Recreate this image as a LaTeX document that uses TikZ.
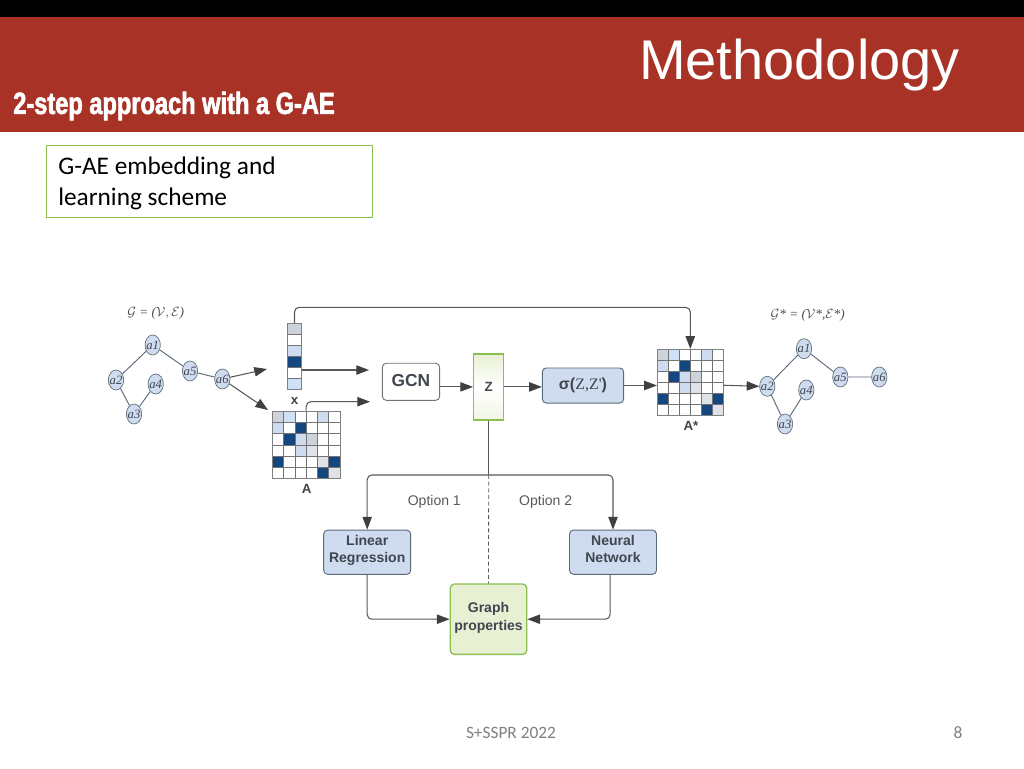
\documentclass[tikz,border=0pt]{standalone}
\usepackage{fontspec}
\usepackage{amsmath,amssymb}
\setmainfont{Liberation Sans}
\newfontfamily\calibrifont{Carlito}
\newfontfamily\serifnodefont{Liberation Serif}
\newfontfamily\subtitlefont[FakeStretch=0.77,FakeBold=2]{Liberation Sans Bold}
\usetikzlibrary{arrows.meta,shapes.geometric}
\definecolor{headred}{HTML}{A93226}
\definecolor{cellgrey}{HTML}{CDD3DA}
\definecolor{cellice}{HTML}{CFE0F7}
\definecolor{cellpale}{HTML}{CFDBEE}
\definecolor{celldark}{HTML}{14477F}
\definecolor{cellsoft}{HTML}{DFE3E8}
\definecolor{boxblue}{HTML}{CFDCEF}
\definecolor{boxedge}{HTML}{5C6B7A}
\definecolor{leafgreen}{HTML}{8CBF52}
\definecolor{palegreen}{HTML}{E8F0D4}
\definecolor{inkgrey}{HTML}{3F4650}
\tikzstyle{bluebox} = [draw=boxedge, fill=boxblue, rounded corners=3pt, line width=0.7pt,
    inner sep=0pt, minimum width=65.25pt, minimum height=33.2pt]
\tikzstyle{boxtext} = [align=center, text=inkgrey, inner sep=0pt,
    font=\fontsize{10.5pt}{13pt}\selectfont\bfseries]
\tikzstyle{graphnode} = [draw=boxedge, fill=boxblue, ellipse, line width=0.5pt, inner sep=-2.5pt,
    minimum width=11.5pt, minimum height=15pt, text=inkgrey, font=\serifnodefont\itshape\fontsize{9.5pt}{11pt}\selectfont]
\tikzstyle{graphedge} = [draw=boxedge, line width=0.7pt]
\tikzstyle{link} = [draw=black!65, line width=0.8pt, rounded corners=3.5pt,
    -{Triangle[length=9.5pt,width=7pt,color=black!75]}]
\tikzstyle{gridframe} = [draw=black!50, line width=0.6pt, inner sep=0pt]
\tikzstyle{caption} = [text=inkgrey, font=\fontsize{10pt}{11pt}\selectfont\bfseries]
\tikzstyle{setlabel} = [text=black!70, font=\serifnodefont\itshape\fontsize{10pt}{12pt}\selectfont]
\tikzstyle{optionlabel} = [text=black!65, font=\fontsize{10.5pt}{12pt}\selectfont]
\tikzstyle{footer} = [text=black!50, font=\calibrifont\fontsize{13pt}{15pt}\selectfont]
\newcommand{\heatcells}[3]{%
    \foreach \rowlist [count=\j from 0] in {{cellgrey,cellice,white,white,cellpale,white},
        {cellpale,white,celldark,white,white,white},{white,celldark,cellpale,cellgrey,white,white},
        {white,white,cellpale,cellsoft,white,white},{celldark,white,white,white,cellsoft,celldark},
        {white,white,white,white,celldark,cellsoft}}{
        \foreach \cellcol [count=\i from 0] in \rowlist {
            \draw[black!55, line width=0.5pt, fill=\cellcol] (#1+\i*#3,#2+\j*#3) rectangle ++(#3,#3);
        }
    }
}
\begin{document}
\begin{tikzpicture}[x=0.75pt,y=-0.75pt]
    \useasboundingbox (0,0) rectangle (1024,768);
    \fill[white] (0,0) rectangle (1024,768);
    \fill[headred] (0,17) rectangle (1024,131.5);
    \fill[black] (0,0) rectangle (1024,17);
    \node[text=white, font=\fontsize{42pt}{46pt}\selectfont, inner sep=0pt] (title) at (799.5,65) {Methodology};
    \node[text=white, font=\subtitlefont\fontsize{23pt}{26pt}\selectfont, inner sep=0pt, anchor=west] (subtitle) at (13,106) {2-step approach with a G-AE};
    \node[draw=leafgreen, line width=0.6pt, inner sep=0pt, minimum width=245pt, minimum height=54pt] (notebox) at (209.5,181) {};
    \node[anchor=west, align=left, inner sep=0pt, font=\calibrifont\fontsize{19pt}{23.2pt}\selectfont] (notetext) at (58,183.5) {G-AE embedding and\\learning scheme};

    \foreach \name/\px/\py in {a1/152.7/345,a2/116/380,a3/134/414,a4/155.7/384,a5/190/371,a6/222.3/379}
        \node[graphnode] (l\name) at (\px,\py) {\name};
    \draw[graphedge] (la1) -- (la2) (la2) -- (la3) (la3) -- (la4) (la1) -- (la5) (la5) -- (la6);
    \node[setlabel] (gleft) at (155.7,313) {$\mathcal{G}$ = ($\mathcal{V},\mathcal{E}$)};

    \foreach \name/\px/\py in {a1/804/348.7,a2/767.3/386.3,a3/785/424,a4/806.3/390,a5/840.3/377,a6/879.3/377}
        \node[graphnode] (r\name) at (\px,\py) {\name};
    \draw[graphedge] (ra1) -- (ra2) (ra2) -- (ra3) (ra3) -- (ra4) (ra1) -- (ra5) (ra5) -- (ra6);
    \node[setlabel] (gright) at (807.7,315) {$\mathcal{G}$* = ($\mathcal{V}$*,$\mathcal{E}$*)};

    \foreach \cellcol [count=\j from 0] in {cellgrey,white,cellpale,celldark,white,cellice}
        \draw[black!55, line width=0.5pt, fill=\cellcol] (287.3,323.3+\j*10.95) rectangle ++(14.4,10.95);
    \node[gridframe, minimum width=10.8pt, minimum height=49.3pt] (xvec) at (294.5,356.15) {};
    \node[caption] (xlabel) at (294.7,400.5) {x};

    \heatcells{272.3}{411}{11.3}
    \node[gridframe, minimum size=50.85pt] (amat) at (306.2,444.9) {};
    \node[caption] (alabel) at (306.7,488.7) {A};

    \heatcells{657.3}{349.3}{11}
    \node[gridframe, minimum size=49.5pt] (astar) at (690.3,382.3) {};
    \node[caption] (astarlabel) at (691,426) {A*};

    \node[draw=black!55, fill=white, rounded corners=3pt, line width=0.7pt, inner sep=0pt, minimum width=43pt, minimum height=27.8pt, text=inkgrey, font=\fontsize{13pt}{15pt}\selectfont\bfseries] (gcn) at (411,381.8) {\raisebox{1.5pt}{GCN}};
    \fill[top color=palegreen, bottom color=palegreen!60, middle color=white] (473.7,354) rectangle (503.7,419.7);
    \node[draw=leafgreen, line width=1.1pt, inner sep=0pt, minimum width=22.5pt, minimum height=49.3pt, caption] (zbox) at (488.7,386.9) {Z};
    \node[bluebox, minimum width=61pt, minimum height=26.3pt, text=inkgrey, font=\fontsize{12pt}{14pt}\selectfont\bfseries] (sigma) at (583,385.5) {\raisebox{1pt}{σ(}{\serifnodefont\mdseries\raisebox{1pt}{Z,Z'}}\raisebox{1pt}{)}};
    \node[bluebox] (linreg) at (367.2,552.2) {};
    \node[boxtext] (linregtext) at (367.2,550.5) {Linear\\Regression};
    \node[bluebox] (neural) at (613,552.2) {};
    \node[boxtext] (neuraltext) at (613,549) {Neural\\Network};
    \node[draw=leafgreen, fill=palegreen, rounded corners=3pt, line width=1pt, inner sep=0pt, minimum width=57.3pt, minimum height=52.7pt] (props) at (488.5,619.2) {};
    \node[boxtext] (propstext) at (488.5,618) {Graph\\properties};

    \coordinate (vecend) at (369,370);
    \coordinate (matend) at (370,401.7);
    \coordinate (topend) at (267,369);
    \coordinate (lowend) at (268,410);
    \coordinate (split) at (488.7,475);

    \draw[link] (la6) -- (topend);
    \draw[link] (la6) -- (lowend);
    \draw[link] (xvec.north) |- (307,307.3) -| (astar.north);
    \draw[link] (xvec.east |- vecend) -- (vecend);
    \draw[link] (amat.north) |- (matend);
    \draw[link] (gcn.east |- zbox.west) -- (zbox.west);
    \draw[link] (zbox.east) -- (zbox.east -| sigma.west);
    \draw[link] (sigma.east) -- (sigma.east -| astar.west);
    \draw[link] ([yshift=-2.2pt]astar.east) -- (ra2.west);
    \draw[draw=black!65, line width=0.8pt] (zbox.south) -- (split);
    \draw[link] (split) -| (linreg.north);
    \draw[link] (split) -| (neural.north);
    \draw[draw=black!65, line width=0.6pt, densely dashed] (split) -- (props.north);
    \draw[link] (linreg.south) |- (props.west);
    \draw[link] ([xshift=-2.2pt]neural.south) |- (props.east);

    \node[optionlabel] (opta) at (434.3,502) {Option 1};
    \node[optionlabel] (optb) at (545.7,502) {Option 2};
    \node[footer] (venue) at (511,733) {S+SSPR 2022};
    \node[footer] (pagenum) at (958,733) {8};
\end{tikzpicture}
\end{document}
